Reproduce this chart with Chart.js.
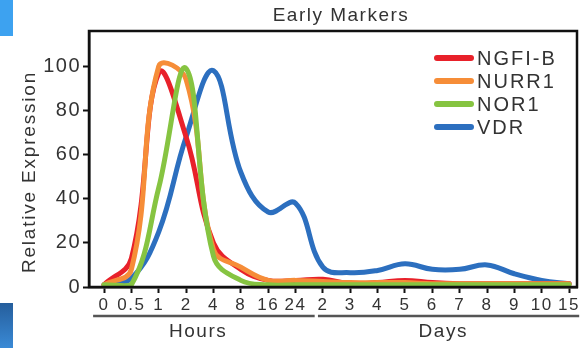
<!DOCTYPE html>
<html>
<head>
<meta charset="utf-8">
<script src="https://cdn.jsdelivr.net/npm/chart.js@4.4.1/dist/chart.umd.min.js"></script>
<style>
  html, body { margin: 0; padding: 0; background: #fff; }
  #wrap { position: relative; width: 587px; height: 348px; overflow: hidden; }
  canvas { position: absolute; left: 0; top: 0; }
  .tab { position: absolute; left: 0; width: 13px; }
  #tabTop { top: 0; height: 36px; background: #3da2f0; }
  #tabBottom { top: 303px; height: 45px; background: linear-gradient(#255e9c, #3a8ad6); }
</style>
</head>
<body>
<div id="wrap">
  <canvas id="chart" width="587" height="348"></canvas>
  <div class="tab" id="tabTop"></div>
  <div class="tab" id="tabBottom"></div>
</div>
<script>
// Data (time points, then relative expression per gene)
const timeLabels = ['0', '0.5', '1', '2', '4', '8', '16', '24', '2', '3', '4', '5', '6', '7', '8', '9', '10', '15'];
const ngfib = [1, 13, 97, 68, 20, 8, 3, 3, 3.5, 1.5, 2, 3, 2, 1.5, 1.5, 1.5, 1.5, 1.5];
const nurr1 = [1, 8, 100, 94, 17, 9, 3, 3, 2.5, 2, 2, 2, 1.5, 1.5, 1.5, 1.5, 1.5, 1.5];
const nor1 = [1, 1, 45, 99, 14, 3, 1, 1, 1, 1, 1, 1, 1, 1, 1, 1, 1, 1];
const vdr = [1, 4, 25, 68, 98, 52, 34, 38, 9, 6.5, 7.5, 10.5, 8, 8, 10, 6, 3, 1.5];
const yTicks = [0, 20, 40, 60, 80, 100];
const groups = [
    { name: 'Hours', from: -0.4, to: 7.7, mid: 3.44 },
    { name: 'Days', from: 7.82, to: 17.37, mid: 12.4 }
];

const FONT = '"Liberation Sans", Arial, Helvetica, sans-serif';
const TEXT = '#333';

function toPoints(values) {
    return values.map((v, i) => ({ x: i, y: v }));
}

function line(label, values, color, order) {
    return {
        label: label,
        data: toPoints(values),
        borderColor: color,
        backgroundColor: color,
        borderWidth: 5,
        borderCapStyle: 'round',
        borderJoinStyle: 'round',
        pointRadius: 0,
        tension: 0.4,
        clip: 6,
        order: order
    };
}

// Frame, legend, title, axis titles and the Hours / Days brackets
const extras = {
    id: 'extras',
    beforeDraw(chart) {
        chart.ctx.letterSpacing = '1.5px';
    },
    afterDraw(chart) {
        const { ctx, chartArea: a, scales: { x } } = chart;
        ctx.save();

        ctx.strokeStyle = '#111';
        ctx.lineWidth = 2.5;
        ctx.strokeRect(a.left, a.top, a.right - a.left, a.bottom - a.top);

        ctx.fillStyle = TEXT;
        ctx.textBaseline = 'middle';

        // title
        ctx.font = '19px ' + FONT;
        ctx.textAlign = 'center';
        ctx.fillText('Early Markers', 341, 15.5);

        // legend
        ctx.font = '20px ' + FONT;
        ctx.letterSpacing = '2px';
        ctx.textAlign = 'left';
        chart.data.datasets.forEach((ds, i) => {
            const y = a.top + 27 + i * 23;
            ctx.strokeStyle = ds.borderColor;
            ctx.lineWidth = 6;
            ctx.lineCap = 'round';
            ctx.beginPath();
            ctx.moveTo(a.right - 140, y);
            ctx.lineTo(a.right - 106, y);
            ctx.stroke();
            ctx.fillStyle = TEXT;
            ctx.fillText(ds.label, a.right - 100, y + 1);
        });

        // hours / days brackets
        ctx.font = '19px ' + FONT;
        ctx.letterSpacing = '1.5px';
        ctx.textAlign = 'center';
        ctx.strokeStyle = '#555';
        ctx.lineWidth = 2.5;
        ctx.lineCap = 'butt';
        groups.forEach(g => {
            ctx.beginPath();
            ctx.moveTo(x.getPixelForValue(g.from), 316);
            ctx.lineTo(x.getPixelForValue(g.to), 316);
            ctx.stroke();
            ctx.fillText(g.name, x.getPixelForValue(g.mid), 332);
        });

        // y axis title
        ctx.translate(30, 172);
        ctx.rotate(-Math.PI / 2);
        ctx.letterSpacing = '1.8px';
        ctx.fillText('Relative Expression', 0, 0);

        ctx.restore();
    }
};

new Chart(document.getElementById('chart'), {
    type: 'line',
    data: {
        datasets: [
            line('NGFI-B', ngfib, '#e8212a', 2),
            line('NURR1', nurr1, '#f68d38', 1),
            line('NOR1', nor1, '#86c441', 0),
            line('VDR', vdr, '#2c6fbf', 3)
        ]
    },
    options: {
        responsive: false,
        animation: false,
        devicePixelRatio: 1,
        layout: { padding: { top: 31, right: 10, left: 0, bottom: 0 } },
        plugins: {
            legend: { display: false },
            title: { display: false },
            tooltip: { enabled: false }
        },
        scales: {
            x: {
                type: 'linear',
                min: -0.55,
                max: 17.29,
                afterBuildTicks: s => { s.ticks = timeLabels.map((_, i) => ({ value: i })); },
                afterFit: s => { s.height = 61; },
                ticks: {
                    autoSkip: false,
                    maxRotation: 0,
                    padding: 2,
                    color: TEXT,
                    font: { family: FONT, size: 17 },
                    callback: v => timeLabels[v]
                },
                grid: { drawOnChartArea: false, drawTicks: true, tickLength: 6, tickColor: '#111', tickWidth: 2 },
                border: { display: true, color: '#111', width: 2.5 }
            },
            y: {
                min: 0,
                max: 116,
                afterBuildTicks: s => { s.ticks = yTicks.map(v => ({ value: v })); },
                afterFit: s => { s.width = 89; },
                ticks: {
                    padding: 2,
                    color: TEXT,
                    font: { family: FONT, size: 20 }
                },
                grid: { drawOnChartArea: false, drawTicks: true, tickLength: 6, tickColor: '#111', tickWidth: 2 },
                border: { display: true, color: '#111', width: 2.5 }
            }
        }
    },
    plugins: [extras]
});
</script>
</body>
</html>
